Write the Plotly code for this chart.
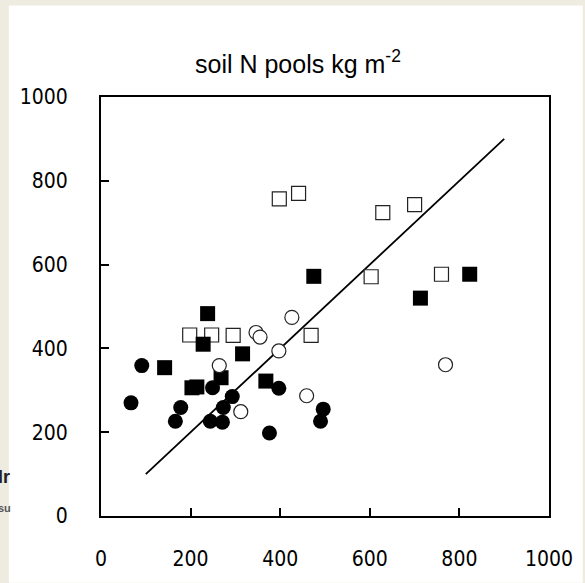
import plotly.graph_objects as go

# ---- data ----
filled_circle_x = [67, 91, 178, 166, 249, 293, 273, 244, 271, 397, 376, 496, 490]
filled_circle_y = [270, 359, 259, 226, 306, 285, 259, 226, 224, 305, 198, 255, 226]

open_circle_x = [264, 346, 355, 426, 397, 312, 459, 769]
open_circle_y = [359, 438, 427, 474, 394, 249, 287, 361]

filled_square_x = [238, 228, 142, 203, 214, 268, 316, 368, 475, 823, 713]
filled_square_y = [483, 410, 354, 306, 308, 330, 387, 322, 572, 577, 520]

open_square_x = [198, 247, 295, 469, 398, 441, 629, 700, 603, 760]
open_square_y = [432, 432, 431, 431, 757, 770, 724, 743, 571, 577]

line_x = [100, 900]
line_y = [100, 900]

tick_vals = [0, 200, 400, 600, 800, 1000]
tick_text = ["0", "200", "400", "600", "800", "1000"]

title_text = "soil N pools kg m<sup>-2</sup>"

# ---- figure ----
W, H = 585, 583
L, R, T, B = 101, 32, 97, 65
pw, ph = W - L - R, H - T - B
BEIGE = "#EEEBE0"


def px_x(p):
    return (p - L) / pw


def px_y(p):
    return (H - B - p) / ph


fig = go.Figure()

fig.add_trace(go.Scatter(x=line_x, y=line_y, mode="lines",
                         line=dict(color="black", width=1.8), hoverinfo="skip"))
fig.add_trace(go.Scatter(x=open_square_x, y=open_square_y, mode="markers",
                         marker=dict(symbol="square", size=14, color="white",
                                     line=dict(color="#222", width=1.2))))
fig.add_trace(go.Scatter(x=filled_square_x, y=filled_square_y, mode="markers",
                         marker=dict(symbol="square", size=15, color="black",
                                     line=dict(width=0))))
fig.add_trace(go.Scatter(x=open_circle_x, y=open_circle_y, mode="markers",
                         marker=dict(symbol="circle", size=14, color="white",
                                     line=dict(color="#222", width=1.2))))
fig.add_trace(go.Scatter(x=filled_circle_x, y=filled_circle_y, mode="markers",
                         marker=dict(symbol="circle", size=15, color="black",
                                     line=dict(width=0))))

axis_common = dict(
    range=[0, 1000], tickvals=tick_vals, ticktext=tick_text,
    showline=True, linecolor="black", linewidth=2, mirror=True,
    ticks="inside", ticklen=8, tickwidth=1.5, tickcolor="black",
    showgrid=False, zeroline=False,
    tickfont=dict(family="DejaVu Sans Condensed, DejaVu Sans", size=21, color="black"),
)

fig.update_layout(
    width=W, height=H,
    margin=dict(l=L, r=R, t=T, b=B, pad=0),
    paper_bgcolor=BEIGE, plot_bgcolor="white",
    showlegend=False,
    xaxis=dict(**axis_common, ticklabelstandoff=23),
    yaxis=dict(**axis_common, ticklabelstandoff=27),
    shapes=[dict(type="rect", xref="paper", yref="paper", layer="below",
                 x0=px_x(8), x1=px_x(W + 2),
                 y0=px_y(H + 2), y1=px_y(5),
                 fillcolor="white", line=dict(width=0))],
    annotations=[
        dict(text=title_text, xref="paper", yref="paper",
             x=px_x(300), y=px_y(62), xanchor="center", yanchor="middle",
             showarrow=False, font=dict(family="Liberation Sans", size=25, color="black")),
        dict(text="<b>lr</b>", xref="paper", yref="paper",
             x=px_x(11), y=px_y(479), xanchor="right", yanchor="middle",
             showarrow=False, font=dict(family="Liberation Sans", size=18, color="#222")),
        dict(text="<b>su</b>", xref="paper", yref="paper",
             x=px_x(12), y=px_y(510), xanchor="right", yanchor="middle",
             showarrow=False, font=dict(family="Liberation Sans", size=11, color="#555")),
    ],
)

fig.write_html(
    "out.html",
    config={"displayModeBar": False},
    post_script=(
        "document.body.style.margin='0';"
        "document.body.style.padding='0';"
        "document.body.style.overflow='hidden';"
        f"document.body.style.background='{BEIGE}';"
    ),
)
